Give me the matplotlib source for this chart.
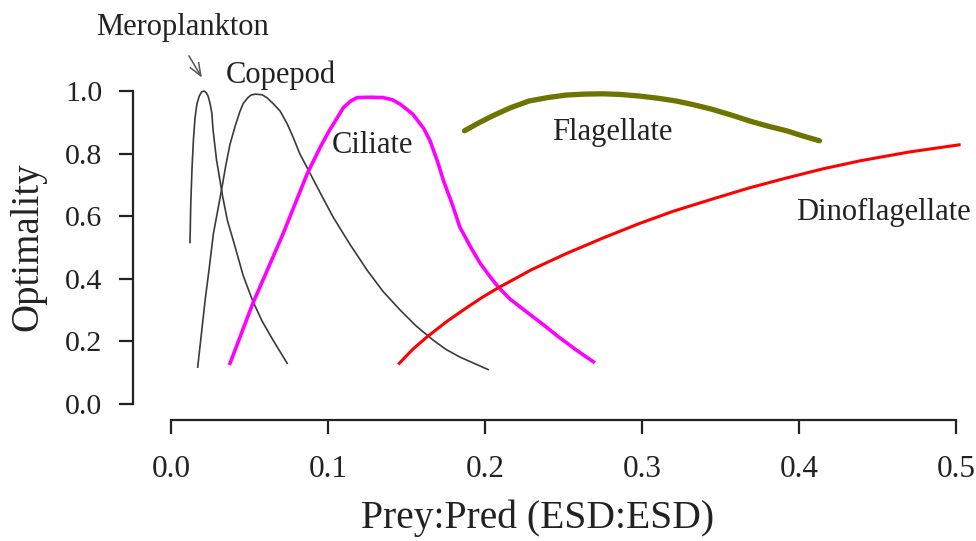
import matplotlib
matplotlib.use("Agg")
import matplotlib.pyplot as plt

# Curves (x = prey:pred ESD ratio, y = optimality)
mero_x = [0.0121, 0.0126, 0.0134, 0.0143, 0.0153, 0.0165, 0.018, 0.0195, 0.0211,
          0.0224, 0.0236, 0.0248, 0.026, 0.0268, 0.029, 0.033, 0.036, 0.0397,
          0.046, 0.052, 0.058, 0.065, 0.074]
mero_y = [0.516, 0.64, 0.755, 0.845, 0.914, 0.958, 0.984, 0.997, 1.0,
          0.995, 0.984, 0.962, 0.93, 0.875, 0.78, 0.66, 0.585, 0.522,
          0.41, 0.33, 0.265, 0.204, 0.13]

cope_x = [0.017, 0.0195, 0.0217, 0.0245, 0.027, 0.030, 0.0324, 0.035, 0.0376,
          0.041, 0.044, 0.046, 0.049, 0.051, 0.0536, 0.058, 0.061, 0.065,
          0.0695, 0.074, 0.078, 0.082, 0.0867, 0.095, 0.1034, 0.114, 0.125,
          0.135, 0.146, 0.156, 0.167, 0.175, 0.184, 0.193, 0.202]
cope_y = [0.118, 0.23, 0.33, 0.44, 0.544, 0.625, 0.69, 0.765, 0.83,
          0.89, 0.936, 0.96, 0.979, 0.987, 0.99, 0.988, 0.979, 0.96,
          0.936, 0.895, 0.85, 0.80, 0.755, 0.675, 0.596, 0.51, 0.427,
          0.36, 0.30, 0.25, 0.204, 0.175, 0.15, 0.13, 0.11]

cili_x = [0.0376, 0.052, 0.0714, 0.0867, 0.095, 0.101, 0.1034, 0.1098, 0.1145,
          0.1186, 0.127, 0.135, 0.141, 0.146, 0.154, 0.161, 0.165, 0.1696,
          0.1736, 0.179, 0.184, 0.191, 0.197, 0.2035, 0.2086, 0.216, 0.225,
          0.237, 0.247, 0.258, 0.269]
cili_y = [0.13, 0.32, 0.544, 0.735, 0.82, 0.875, 0.894, 0.947, 0.968,
          0.979, 0.98, 0.979, 0.972, 0.958, 0.926, 0.88, 0.841, 0.777,
          0.713, 0.64, 0.565, 0.50, 0.449, 0.405, 0.373, 0.335, 0.30,
          0.254, 0.214, 0.173, 0.135]

flag_x = [0.187, 0.196, 0.2046, 0.216, 0.228, 0.24, 0.2515, 0.263, 0.275, 0.286,
          0.298, 0.31, 0.3218, 0.333, 0.345, 0.357, 0.3687, 0.38, 0.392, 0.402,
          0.413]
flag_y = [0.873, 0.898, 0.920, 0.946, 0.968, 0.979, 0.987, 0.99, 0.991, 0.989,
          0.984, 0.977, 0.968, 0.956, 0.941, 0.923, 0.904, 0.888, 0.873, 0.857,
          0.841]

dino_x = [0.1454, 0.154, 0.163, 0.176, 0.189, 0.198, 0.208, 0.23, 0.2515, 0.275,
          0.298, 0.32, 0.345, 0.368, 0.392, 0.415, 0.439, 0.47, 0.502]
dino_y = [0.13, 0.175, 0.214, 0.265, 0.31, 0.34, 0.37, 0.43, 0.48, 0.53,
          0.576, 0.616, 0.655, 0.69, 0.722, 0.751, 0.777, 0.805, 0.828]

x_ticks = [0.0, 0.1, 0.2, 0.3, 0.4, 0.5]
y_ticks = [0.0, 0.2, 0.4, 0.6, 0.8, 1.0]


def main():
    plt.rcParams['font.family'] = ['Liberation Serif', 'DejaVu Serif']

    fig = plt.figure(figsize=(9.76, 5.41), dpi=100)
    ax = fig.add_axes([0.1752, 0.2532, 0.8043, 0.5786])

    # curves
    ax.plot(mero_x, mero_y, color='#3a3a3a', lw=1.2, clip_on=False)
    ax.plot(cope_x, cope_y, color='#3a3a3a', lw=1.2, clip_on=False)
    ax.plot(cili_x, cili_y, color='#ff00ff', lw=2.6, clip_on=False)
    ax.plot(flag_x, flag_y, color='#6e7400', lw=3.8, solid_capstyle='round',
            clip_on=False)
    ax.plot(dino_x, dino_y, color='#ff0000', lw=2.2, clip_on=False)

    # labels on the curves
    txt = dict(fontsize=22, color='#222222', ha='center', va='baseline')
    ax.text(0.0073, 1.18, 'Meroplankton', clip_on=False, **txt)
    ax.text(0.0702, 1.025, 'Copepod', **txt)
    ax.text(0.1283, 0.803, 'Ciliate', **txt)
    ax.text(0.2808, 0.844, 'Flagellate', **txt)
    ax.text(0.4537, 0.589, 'Dinoflagellate', **txt)
    ax.annotate('', xy=(0.0206, 1.035), xytext=(0.0105, 1.12),
                arrowprops=dict(arrowstyle='->,head_length=0.9,head_width=0.35',
                                color='#555555', lw=1.1),
                annotation_clip=False)

    # axes, R style
    ax.set_xlim(0, 0.5)
    ax.set_ylim(0, 1)
    for s in ['top', 'right']:
        ax.spines[s].set_visible(False)
    ax.spines['left'].set_position(('outward', 27.4))
    ax.spines['bottom'].set_position(('outward', 11.5))
    ax.spines['left'].set_bounds(0, 1)
    ax.spines['bottom'].set_bounds(0, 0.5)
    for s in ['left', 'bottom']:
        ax.spines[s].set_linewidth(1.6)
        ax.spines[s].set_color('#222222')

    ax.set_xticks(x_ticks)
    ax.set_xticklabels([f'{v:.1f}' for v in x_ticks])
    ax.set_yticks(y_ticks)
    ax.set_yticklabels([f'{v:.1f}' for v in y_ticks])
    ax.tick_params(axis='y', length=10, width=1.6, pad=12, labelsize=21.5,
                   colors='#222222')
    ax.tick_params(axis='x', length=10, width=1.6, pad=15, labelsize=22.5,
                   colors='#222222')

    fig.text(537.5 / 976, 0.024, 'Prey:Pred (ESD:ESD)', fontsize=28.5,
             ha='center', va='baseline', color='#222222')
    fig.text(28 / 976, 0.5434, 'Optimality', fontsize=28, rotation=90,
             ha='center', va='center', color='#222222')

    fig.savefig('out.png', dpi=100)


if __name__ == "__main__":
    main()
